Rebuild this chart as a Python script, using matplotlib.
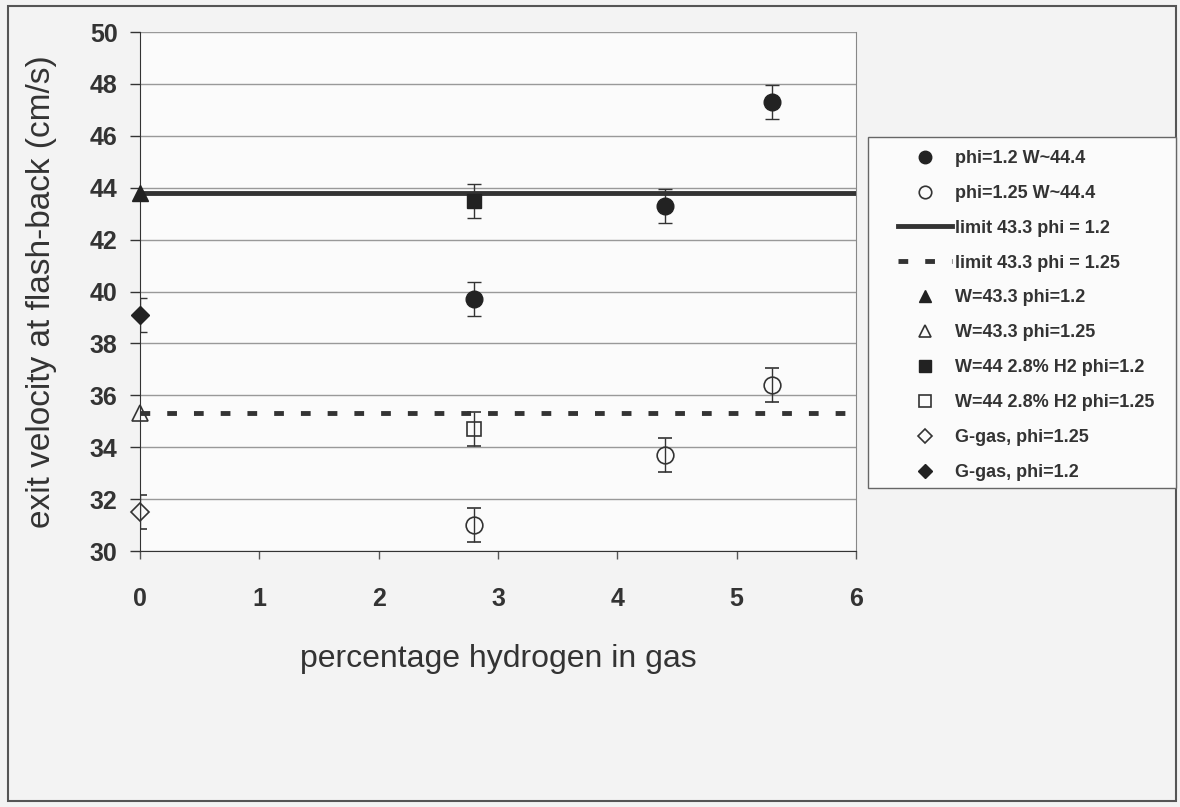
import matplotlib.pyplot as plt
from matplotlib.patches import Rectangle
from matplotlib.lines import Line2D

plt.rcParams['font.family'] = ['Liberation Sans', 'DejaVu Sans']

# data
x_circ = [2.8, 4.4, 5.3]
y_circ_12 = [39.7, 43.3, 47.3]
y_circ_125 = [31.0, 33.7, 36.4]
limit_12 = 43.8
limit_125 = 35.3
tri_12 = 43.8
tri_125 = 35.3
sq_x = 2.8
sq_12 = 43.5
sq_125 = 34.7
gas_125 = 31.5
gas_12 = 39.1
err = 0.65

labels = ['phi=1.2 W~44.4', 'phi=1.25 W~44.4', 'limit 43.3 phi = 1.2', 'limit 43.3 phi = 1.25',
          'W=43.3 phi=1.2', 'W=43.3 phi=1.25', 'W=44 2.8% H2 phi=1.2', 'W=44 2.8% H2 phi=1.25',
          'G-gas, phi=1.25', 'G-gas, phi=1.2']

dark = '#222222'
fig = plt.figure(figsize=(11.8, 8.07), dpi=100)
fig.patch.set_facecolor('#f3f3f3')
fig.patches.append(Rectangle((0.007, 0.008), 0.99, 0.985, transform=fig.transFigure,
                             fill=False, edgecolor='#555555', linewidth=1.5))

ax = fig.add_axes([0.1186, 0.3172, 0.6068, 0.6431])
ax.set_facecolor('#fbfbfb')

ek = dict(ecolor='#333333', elinewidth=1, capsize=5, capthick=1, linestyle='none', zorder=5)
filled = dict(mfc=dark, mec=dark)
hollow = dict(mfc='none', mec='#333333', mew=1.2)

ax.errorbar(x_circ, y_circ_12, yerr=err, marker='o', ms=12, **filled, **ek)
ax.errorbar(x_circ, y_circ_125, yerr=err, marker='o', ms=12, **hollow, **ek)
ax.plot([0, 6], [limit_12, limit_12], color='#333333', lw=3.5, zorder=4)
ax.plot([0, 6], [limit_125, limit_125], color='#333333', lw=3.5, dashes=(2, 3.5), zorder=4)
ax.plot([0], [tri_12], marker='^', ms=11, linestyle='none', zorder=6, clip_on=False, **filled)
ax.plot([0], [tri_125], marker='^', ms=11, linestyle='none', zorder=6, clip_on=False, **hollow)
ax.errorbar([sq_x], [sq_12], yerr=err, marker='s', ms=10, **filled, **ek)
ax.errorbar([sq_x], [sq_125], yerr=err, marker='s', ms=10, **hollow, **ek)
for yv, st in ((gas_125, hollow), (gas_12, filled)):
    e = ax.errorbar([0], [yv], yerr=err, marker='D', ms=9, **st, **ek)
    e.lines[0].set_clip_on(False)

ax.set_xlim(0, 6)
ax.set_ylim(30, 50)
ax.set_yticks(range(30, 51, 2))
ax.set_xticks(range(0, 7))
ax.grid(axis='y', color='#999999', linewidth=1)
ax.set_axisbelow(True)
ax.spines['right'].set_color('#888888')
ax.spines['top'].set_visible(False)
ax.spines['left'].set_color('#333333')
ax.spines['bottom'].set_color('#333333')
ax.tick_params(axis='y', length=7, width=1, color='#333333', labelsize=18, pad=9)
ax.tick_params(axis='x', length=6, width=1, color='#555555', labelsize=18, pad=20)
for lab in ax.get_xticklabels() + ax.get_yticklabels():
    lab.set_fontweight('bold')
    lab.set_color('#333333')

ax.set_ylabel('exit velocity at flash-back (cm/s)', fontsize=24, color='#333333', labelpad=24)
ax.set_xlabel('percentage hydrogen in gas', fontsize=23, color='#333333', labelpad=24)

# legend frame drawn separately so the inner padding can match the original
fig.patches.append(Rectangle((868 / 1180, 1 - 488 / 807), 308 / 1180, 351 / 807,
                             transform=fig.transFigure, facecolor='#fbfbfb',
                             edgecolor='#666666', linewidth=1))

# legend proxies (markers only, no error bars)
handles = [
    Line2D([], [], marker='o', ms=9, linestyle='none', **filled),
    Line2D([], [], marker='o', ms=9, linestyle='none', **hollow),
    Line2D([], [], color='#333333', lw=3.5),
    Line2D([], [], color='#333333', lw=3.5, dashes=(2, 3.5)),
    Line2D([], [], marker='^', ms=9, linestyle='none', **filled),
    Line2D([], [], marker='^', ms=9, linestyle='none', **hollow),
    Line2D([], [], marker='s', ms=8, linestyle='none', **filled),
    Line2D([], [], marker='s', ms=8, linestyle='none', **hollow),
    Line2D([], [], marker='D', ms=7, linestyle='none', **hollow),
    Line2D([], [], marker='D', ms=7, linestyle='none', **filled),
]
leg = fig.legend(handles, labels, loc='upper left', bbox_to_anchor=(898 / 1180, 1 - 150 / 807),
                 prop={'weight': 'bold', 'size': 13}, frameon=False, labelspacing=0.99,
                 handlelength=3.0, borderpad=0, handletextpad=0.15, borderaxespad=0)
for t in leg.get_texts():
    t.set_color('#333333')

fig.savefig('out.png', dpi=100, facecolor=fig.get_facecolor())
